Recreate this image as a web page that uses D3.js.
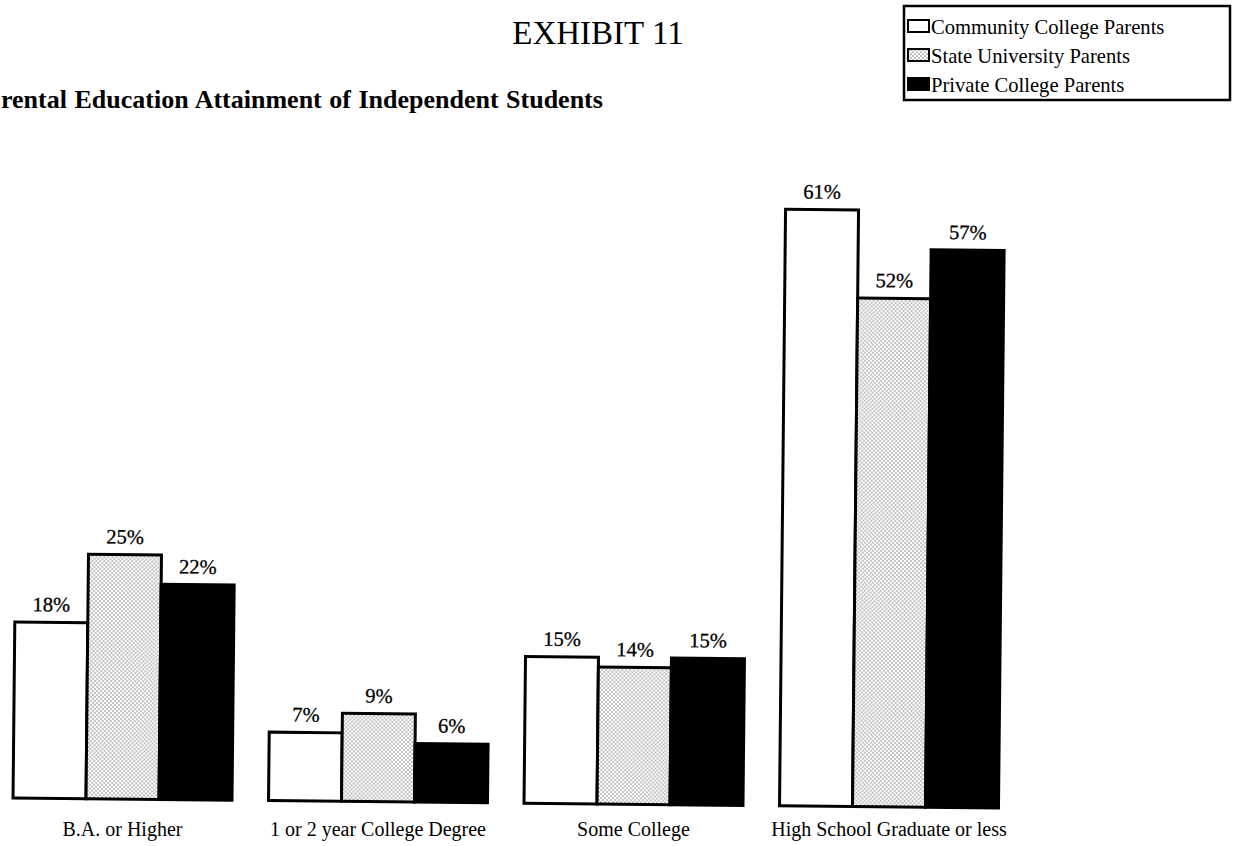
<!DOCTYPE html>
<html>
<head>
<meta charset="utf-8">
<script src="https://cdn.jsdelivr.net/npm/d3@7/dist/d3.min.js"></script>
<style>
  html, body { margin: 0; padding: 0; background: #fff; }
  svg { display: block; }
  text { font-family: "Liberation Serif", "Times New Roman", serif; fill: #000; }
</style>
</head>
<body>
<svg id="chart" width="1233" height="846"></svg>
<script>
// Education levels shown along the bottom
const categories = ["B.A. or Higher", "1 or 2 year College Degree", "Some College", "High School Graduate or less"];
// Parent groups (one bar each per education level)
const seriesNames = ["Community College Parents", "State University Parents", "Private College Parents"];
// Percent of independent students in each group
const communityValues = [18, 7, 15, 61];
const stateValues = [25, 9, 14, 52];
const privateValues = [22, 6, 15, 57];

const titleText = "EXHIBIT 11";
const subtitleText = "rental Education Attainment of Independent Students";

const svg = d3.select("#chart");

// Fill pattern for the state university bars: fine staggered dots
const defs = svg.append("defs");
const dots = defs.append("pattern")
  .attr("id", "dots").attr("patternUnits", "userSpaceOnUse")
  .attr("width", 4).attr("height", 4);
dots.append("rect").attr("width", 4).attr("height", 4).attr("fill", "#fff");
dots.append("rect").attr("x", 0.4).attr("y", 0.4).attr("width", 1.2).attr("height", 1.2).attr("fill", "#555");
dots.append("rect").attr("x", 2.4).attr("y", 2.4).attr("width", 1.2).attr("height", 1.2).attr("fill", "#555");

const fills = ["#fff", "url(#dots)", "#000"];

const rows = categories.map((c, i) => ({
  category: c,
  values: [communityValues[i], stateValues[i], privateValues[i]]
}));

// Scales
const baseY = 803;
const x0 = d3.scaleBand().domain(categories).range([13, 998.5]).paddingInner(0.143).paddingOuter(0);
const x1 = d3.scaleBand().domain(seriesNames).range([0, x0.bandwidth()]).padding(0);
const y = d3.scaleLinear().domain([0, 100]).range([baseY, baseY - 978]);

// Titles
svg.append("text")
  .attr("x", 598).attr("y", 44)
  .attr("text-anchor", "middle")
  .style("font-size", "33px")
  .text(titleText);

svg.append("text")
  .attr("x", 1).attr("y", 108)
  .attr("text-anchor", "start")
  .style("font-size", "26px").style("font-weight", "bold")
  .style("word-spacing", "1px")
  .text(subtitleText);

// Plot area, drawn with the slight clockwise lean of the printed page
const plot = svg.append("g")
  .attr("transform", `rotate(0.58, 506, ${baseY})`);

const groups = plot.selectAll("g.group")
  .data(rows)
  .join("g")
  .attr("class", "group")
  .attr("transform", d => `translate(${x0(d.category)},0)`);

groups.selectAll("rect")
  .data(d => d.values.map((v, j) => ({ name: seriesNames[j], value: v, j })))
  .join("rect")
  .attr("x", d => x1(d.name))
  .attr("y", d => y(d.value))
  .attr("width", x1.bandwidth())
  .attr("height", d => y(0) - y(d.value))
  .attr("fill", d => fills[d.j])
  .attr("stroke", "#000")
  .attr("stroke-width", 3);

groups.selectAll("text.val")
  .data(d => d.values.map((v, j) => ({ name: seriesNames[j], value: v })))
  .join("text")
  .attr("class", "val")
  .attr("x", d => x1(d.name) + x1.bandwidth() / 2)
  .attr("y", d => y(d.value) - 11)
  .attr("text-anchor", "middle")
  .style("font-size", "20.5px")
  .style("stroke", "#000").style("stroke-width", "0.3px")
  .text(d => d.value + "%");

// Category labels
svg.append("g").selectAll("text")
  .data(categories)
  .join("text")
  .attr("x", d => x0(d) + x0.bandwidth() / 2)
  .attr("y", 836)
  .attr("text-anchor", "middle")
  .style("font-size", "20px")
  .text(d => d);

// Legend
const legend = svg.append("g");
legend.append("rect")
  .attr("x", 904).attr("y", 6).attr("width", 326).attr("height", 94)
  .attr("fill", "#fff").attr("stroke", "#000").attr("stroke-width", 2.5);

const items = legend.selectAll("g.item")
  .data(seriesNames)
  .join("g")
  .attr("class", "item")
  .attr("transform", (d, i) => `translate(0, ${34 + i * 29})`);

items.append("rect")
  .attr("x", 908).attr("y", -14).attr("width", 21).attr("height", 12)
  .attr("fill", (d, i) => fills[i])
  .attr("stroke", "#000").attr("stroke-width", 2);

items.append("text")
  .attr("x", 931).attr("y", 0)
  .style("font-size", "20.6px")
  .text(d => d);
</script>
</body>
</html>
